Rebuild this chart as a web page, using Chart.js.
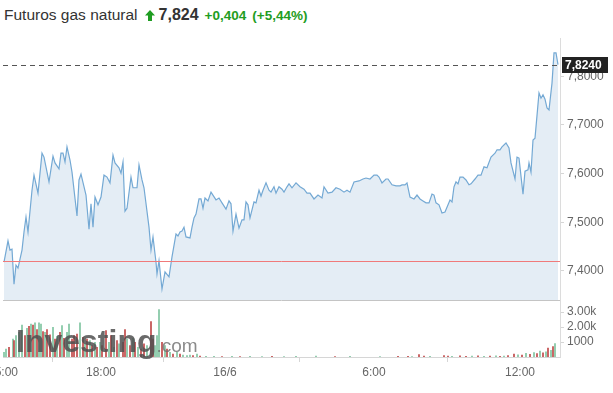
<!DOCTYPE html>
<html>
<head>
<meta charset="utf-8">
<script src="https://cdn.jsdelivr.net/npm/chart.js@4.4.1/dist/chart.umd.min.js"></script>
<style>
  body { margin: 0; background: #fff; font-family: "Liberation Sans", Arial, sans-serif; }
  #head { position: absolute; left: 4px; top: 6px; height: 22px; white-space: nowrap; color: #333; }
  #head .name { font-size: 15.5px; }
  #head svg { margin-left: 7px; margin-right: 4px; vertical-align: -1px; }
  #head .last { font-size: 16px; font-weight: bold; }
  #head .chg { color: #1f9d22; font-size: 13.5px; font-weight: bold; margin-left: 6px; }
  #wrap { position: absolute; left: 0; top: 35px; width: 613px; height: 358px; }
</style>
</head>
<body>
<div id="head"><span class="name">Futuros gas natural</span><svg width="10" height="11" viewBox="0 0 10 11"><path d="M5 0 L10 5.5 L7 5.5 L7 11 L3 11 L3 5.5 L0 5.5 Z" fill="#1f9d22"/></svg><span class="last">7,824</span><span class="chg">+0,404</span><span class="chg">(+5,44%)</span></div>
<div id="wrap"><canvas id="gasChart"></canvas></div>
<script>
// price line: time slot (5 min bars) and price
const slots = [0, 4, 6, 8, 10, 12, 14, 18, 20, 22, 24, 28, 30, 34, 38, 40, 45, 49, 51, 55,
    57, 59, 61, 63, 66, 68, 73, 75, 77, 82, 85, 87, 89, 91, 94, 97, 100, 103, 106, 109,
    111, 115, 117, 119, 121, 123, 127, 129, 133, 135, 138, 140, 145, 147, 149, 152, 153, 155, 158, 161,
    165, 168, 172, 174, 176, 178, 180, 182, 186, 188, 190, 192, 195, 197, 199, 201, 204, 207, 212, 215,
    218, 222, 225, 227, 229, 232, 235, 238, 240, 242, 244, 246, 250, 252, 255, 257, 259, 262, 265, 267,
    270, 272, 275, 278, 280, 283, 285, 288, 292, 296, 300, 303, 306, 310, 314, 318, 320, 324, 328, 332,
    336, 340, 343, 346, 350, 355, 359, 362, 366, 370, 373, 375, 378, 382, 384, 388, 392, 396, 398, 401,
    403, 406, 410, 413, 416, 419, 422, 425, 428, 430, 432, 435, 438, 441, 446, 448, 450, 452, 454, 456,
    459, 462, 465, 467, 471, 474, 477, 480, 483, 487, 491, 493, 496, 498, 502, 505, 507, 511, 513, 515,
    519, 521, 524, 525, 527, 529, 531, 535, 537, 539, 541, 543, 545, 548, 550, 552, 554];
const prices = [7.418, 7.462, 7.443, 7.445, 7.373, 7.412, 7.406, 7.443, 7.480, 7.511, 7.480, 7.566, 7.597, 7.560, 7.642, 7.634, 7.583, 7.636, 7.622, 7.610,
    7.642, 7.642, 7.624, 7.655, 7.628, 7.603, 7.513, 7.587, 7.599, 7.556, 7.486, 7.538, 7.490, 7.552, 7.536, 7.552, 7.597, 7.593, 7.581, 7.638,
    7.622, 7.612, 7.601, 7.624, 7.523, 7.529, 7.593, 7.571, 7.571, 7.618, 7.587, 7.571, 7.490, 7.443, 7.470, 7.418, 7.394, 7.421, 7.363, 7.398,
    7.388, 7.429, 7.476, 7.472, 7.480, 7.482, 7.490, 7.470, 7.468, 7.490, 7.509, 7.517, 7.548, 7.548, 7.529, 7.550, 7.544, 7.562, 7.546, 7.550,
    7.540, 7.527, 7.544, 7.538, 7.482, 7.517, 7.488, 7.505, 7.505, 7.542, 7.536, 7.509, 7.542, 7.540, 7.566, 7.554, 7.566, 7.581, 7.566, 7.562,
    7.573, 7.560, 7.573, 7.568, 7.562, 7.573, 7.579, 7.571, 7.581, 7.573, 7.568, 7.560, 7.560, 7.548, 7.556, 7.550, 7.573, 7.560, 7.562, 7.571,
    7.568, 7.562, 7.566, 7.562, 7.583, 7.585, 7.589, 7.591, 7.589, 7.597, 7.597, 7.593, 7.581, 7.589, 7.589, 7.577, 7.575, 7.575, 7.577, 7.577,
    7.581, 7.552, 7.548, 7.556, 7.548, 7.544, 7.540, 7.540, 7.558, 7.556, 7.540, 7.536, 7.519, 7.521, 7.546, 7.542, 7.573, 7.583, 7.579, 7.593,
    7.593, 7.587, 7.577, 7.579, 7.589, 7.597, 7.597, 7.614, 7.612, 7.634, 7.642, 7.649, 7.649, 7.655, 7.663, 7.653, 7.622, 7.589, 7.634, 7.632,
    7.558, 7.605, 7.608, 7.622, 7.603, 7.669, 7.673, 7.766, 7.755, 7.762, 7.753, 7.735, 7.731, 7.786, 7.848, 7.848, 7.824];

// volume bars: slot, contracts, direction (1 up, -1 down)
const volSlots = [0, 2, 5, 9, 10, 12, 15, 18, 21, 23, 25, 27, 29, 31, 33, 35, 37, 39, 41, 43,
    46, 49, 51, 53, 56, 58, 60, 63, 65, 68, 70, 73, 76, 79, 81, 83, 86, 88, 91, 93,
    96, 98, 102, 105, 107, 110, 113, 115, 119, 121, 123, 126, 129, 131, 134, 137, 140, 143, 147, 149,
    151, 153, 155, 158, 161, 163, 166, 169, 173, 176, 179, 183, 186, 189, 193,
    196, 202, 210, 218, 228, 236, 246, 258, 268, 280, 292, 312, 331, 346, 376, 394, 404, 408, 415, 420,
    426, 440, 444, 448, 456, 462, 468, 474, 480, 486, 492, 496, 500, 504, 510, 514, 518, 522, 526, 530,
    533, 536, 539, 542, 544, 547, 549, 551];
const volumes = [310, 530, 640, 1200, 1090, 1420, 1640, 2130, 1420, 1910, 2040, 2200, 2130, 2270, 1820, 2270, 2200, 1690, 1640, 1820,
    1470, 1980, 1200, 1380, 1640, 2090, 1240, 1640, 2200, 1200, 1420, 1530, 2270, 1310, 870, 1200, 1090, 760, 980, 640,
    980, 760, 1760, 980, 1420, 640, 1090, 870, 980, 1820, 1200, 760, 1240, 980, 640, 530, 870, 760, 2360, 1200,
    760, 1420, 3160, 980, 760, 530, 310, 200, 310, 200, 130, 90, 130, 90, 200,
    60, 40, 50, 30, 40, 30, 40, 30, 40, 30, 40, 60, 30, 40, 30, 40, 40, 30, 160, 60,
    40, 100, 60, 40, 80, 50, 60, 70, 50, 60, 70, 50, 60, 90, 200, 150, 120, 250, 180, 300,
    220, 400, 280, 350, 600, 450, 700, 900];
const volDir = [1, 1, -1, 1, -1, 1, 1, 1, -1, 1, -1, 1, -1, 1, -1, 1, 1, -1, 1, -1,
    -1, 1, -1, 1, -1, 1, -1, 1, 1, -1, -1, -1, 1, -1, 1, -1, 1, -1, 1, -1,
    1, -1, -1, 1, -1, 1, -1, 1, -1, -1, 1, -1, 1, -1, 1, -1, -1, 1, -1, -1,
    1, 1, 1, -1, 1, -1, 1, -1, 1, -1, 1, 1, 1, -1, 1,
    -1, 1, 1, -1, 1, -1, 1, 1, -1, 1, 1, 1, -1, 1, 1, -1, -1, 1, -1, -1,
    1, -1, -1, 1, -1, -1, 1, -1, 1, -1, 1, -1, 1, -1, -1, 1, -1, 1, -1, 1,
    -1, 1, -1, 1, -1, 1, -1, 1];

const xTickSlots = [-1, 97, 221, 370, 516];
const xTickLabels = ['15:00', '18:00', '16/6', '6:00', '12:00'];
const priceTicks = [7.4, 7.5, 7.6, 7.7, 7.8];
const volTicks = [1000, 2000, 3000];

const lastPrice = 7.824;
const prevClose = 7.420;

const tickFont = { family: '"Liberation Sans", Arial, sans-serif', size: 12 };

const overlays = {
    id: 'overlays',
    afterDatasetsDraw(chart) {
        const { ctx, chartArea, scales } = chart;
        ctx.save();
        // previous close
        const yp = Math.round(scales.y.getPixelForValue(prevClose)) + 0.5;
        ctx.strokeStyle = '#f07a7a';
        ctx.lineWidth = 1;
        ctx.beginPath();
        ctx.moveTo(chartArea.left, yp);
        ctx.lineTo(chartArea.right, yp);
        ctx.stroke();
        // pane separator
        const ys = Math.round(scales.y.bottom) + 0.5;
        ctx.strokeStyle = '#c4c4c4';
        ctx.beginPath();
        ctx.moveTo(chartArea.left, ys);
        ctx.lineTo(chartArea.right, ys);
        ctx.stroke();
        // watermark
        const base = scales.y2.bottom - 5;
        ctx.fillStyle = 'rgba(80,80,80,0.85)';
        ctx.font = 'bold 32px "Liberation Sans", Arial, sans-serif';
        ctx.textBaseline = 'alphabetic';
        ctx.fillText('Investing', chartArea.left + 13, base);
        const w = ctx.measureText('Investing').width;
        ctx.fillStyle = 'rgba(110,110,110,0.8)';
        ctx.font = '19px "Liberation Sans", Arial, sans-serif';
        ctx.fillText('.com', chartArea.left + 13 + w, base);
        ctx.restore();
    },
    afterDraw(chart) {
        const { ctx, chartArea, scales } = chart;
        const y = Math.round(scales.y.getPixelForValue(lastPrice)) + 0.5;
        ctx.save();
        ctx.strokeStyle = '#555';
        ctx.lineWidth = 1;
        ctx.setLineDash([5, 4]);
        ctx.beginPath();
        ctx.moveTo(chartArea.left, y);
        ctx.lineTo(chartArea.right, y);
        ctx.stroke();
        ctx.setLineDash([]);
        ctx.fillStyle = '#222';
        ctx.fillRect(chartArea.right + 2, y - 8.5, 46, 16);
        ctx.fillStyle = '#fff';
        ctx.font = 'bold 12px "Liberation Sans", Arial, sans-serif';
        ctx.textAlign = 'left';
        ctx.textBaseline = 'middle';
        ctx.fillText(lastPrice.toFixed(4).replace('.', ','), chartArea.right + 5, y);
        ctx.restore();
    }
};

const noPad = (scale) => { scale.width = 53; scale.paddingTop = 0; scale.paddingBottom = 0; };

const ctx = document.getElementById('gasChart').getContext('2d');
const gasChart = new Chart(ctx, {
    type: 'line',
    data: {
        datasets: [{
            type: 'line',
            label: 'Precio',
            data: slots.map((s, i) => ({ x: s, y: prices[i] })),
            yAxisID: 'y',
            borderColor: '#74a9d4',
            borderWidth: 1.2,
            backgroundColor: '#e4edf5',
            fill: 'start',
            pointRadius: 0,
            tension: 0
        }, {
            type: 'bar',
            label: 'Volumen',
            data: volSlots.map((s, i) => ({ x: s, y: volumes[i] })),
            yAxisID: 'y2',
            backgroundColor: volDir.map(d => d > 0 ? '#7fc4a0' : '#c04848'),
            barThickness: 1,
            borderWidth: 0
        }]
    },
    options: {
        responsive: true,
        maintainAspectRatio: false,
        animation: false,
        layout: { padding: { top: 3, left: 3, right: 0, bottom: 0 } },
        plugins: {
            legend: { display: false },
            tooltip: { enabled: false },
            title: { display: false }
        },
        scales: {
            x: {
                type: 'linear',
                min: -1,
                max: 556,
                offset: false,
                afterBuildTicks: (scale) => { scale.ticks = xTickSlots.map(v => ({ value: v })); },
                afterFit: (scale) => { scale.paddingLeft = 0; scale.paddingRight = 0; scale.height = 36; },
                ticks: {
                    autoSkip: false,
                    maxRotation: 0,
                    padding: 3,
                    color: '#666',
                    font: tickFont,
                    callback: (v) => xTickLabels[xTickSlots.indexOf(v)]
                },
                grid: { drawOnChartArea: false, tickLength: 5, color: '#d6d6d6' },
                border: { color: '#d6d6d6' }
            },
            y: {
                position: 'right',
                stack: 'pane',
                stackWeight: 262,
                min: 7.3404,
                max: 7.8787,
                afterBuildTicks: (scale) => { scale.ticks = priceTicks.map(v => ({ value: v })); },
                afterFit: noPad,
                ticks: {
                    autoSkip: false,
                    padding: 3,
                    color: '#666',
                    font: tickFont,
                    callback: (v) => v.toFixed(4).replace('.', ',')
                },
                grid: { drawOnChartArea: false, tickLength: 4, color: '#d6d6d6' },
                border: { color: '#dcdcdc' }
            },
            y2: {
                position: 'right',
                stack: 'pane',
                stackWeight: 57,
                offset: false,
                min: 0,
                max: 3800,
                afterBuildTicks: (scale) => { scale.ticks = volTicks.map(v => ({ value: v })); },
                afterFit: noPad,
                ticks: {
                    autoSkip: false,
                    padding: 3,
                    color: '#666',
                    font: tickFont,
                    callback: (v) => v >= 2000 ? (v / 1000).toFixed(2) + 'k' : String(v)
                },
                grid: { drawOnChartArea: false, tickLength: 4, color: '#d6d6d6' },
                border: { color: '#dcdcdc' }
            }
        }
    },
    plugins: [overlays]
});
</script>
</body>
</html>
